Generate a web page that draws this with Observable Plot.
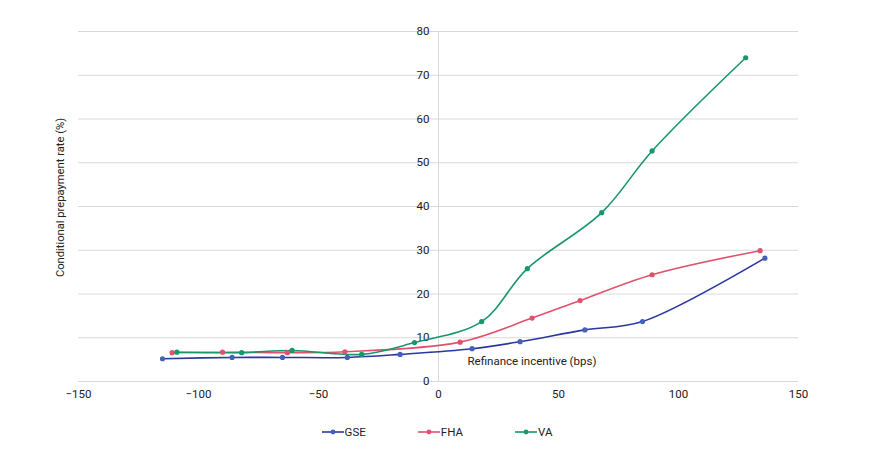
<!DOCTYPE html>
<html><head><meta charset="utf-8">
<script src="https://cdn.jsdelivr.net/npm/d3@7"></script>
<script src="https://cdn.jsdelivr.net/npm/@observablehq/plot@0.6"></script>
<style>
body{margin:0;background:#fff;font-family:Roboto,"Liberation Sans",sans-serif;}
#legend{display:flex;justify-content:center;gap:52px;font-size:11.5px;color:#222;height:40px;align-items:center;padding-left:4px;}
.item{display:flex;align-items:center;}
.item svg{margin-right:1px}
</style></head>
<body><div id="chart"></div><div id="legend"></div>
<script>
const series = ["GSE", "FHA", "VA"];
const colors = ["#2b37a0", "#e0526c", "#17976a"];
const pointColors = ["#4560b8", "#e0526c", "#17976a"];
const gseX = [-115, -86, -65, -38, -16, 14, 34, 61, 85, 136];
const gseY = [5.2, 5.5, 5.5, 5.5, 6.2, 7.5, 9.1, 11.8, 13.7, 28.2];
const fhaX = [-111, -90, -63, -39, 9, 39, 59, 89, 134];
const fhaY = [6.6, 6.7, 6.6, 6.8, 9.0, 14.5, 18.5, 24.4, 29.9];
const vaX = [-109, -82, -61, -32, -10, 18, 37, 68, 89, 128];
const vaY = [6.7, 6.6, 7.1, 6.2, 8.9, 13.7, 25.8, 38.6, 52.7, 74.0];
const yTicks = [0, 10, 20, 30, 40, 50, 60, 70, 80];
const xTicks = [-150, -100, -50, 0, 50, 100, 150];
const xLabel = "Refinance incentive (bps)";
const yLabel = "Conditional prepayment rate (%)";

const xs = [gseX, fhaX, vaX], ys = [gseY, fhaY, vaY];
const data = series.flatMap((s, i) => xs[i].map((x, j) => ({series: s, x, y: ys[i][j]})));

const H = 412;
const chart = Plot.plot({
  width: 870, height: H,
  marginLeft: 78, marginRight: 72, marginTop: 31, marginBottom: H - 381,
  style: {fontFamily: "Roboto, 'Liberation Sans', sans-serif", fontSize: "11.5px", color: "#222"},
  x: {domain: [-150, 150], ticks: xTicks},
  y: {domain: [0, 80], ticks: yTicks},
  color: {domain: series, range: colors},
  marks: [
    Plot.gridY(yTicks, {stroke: "#d9d9d9", strokeOpacity: 1}),
    Plot.ruleX([0], {stroke: "#d9d9d9", strokeWidth: 1}),
    Plot.axisX({ticks: xTicks, tickSize: 0, tickPadding: 8, label: null, fill: "#222"}),
    Plot.axisY({ticks: yTicks, tickSize: 0, tickPadding: 9, dx: 360, label: null, fill: "#222"}),
    Plot.text([yLabel], {frameAnchor: "left", textAnchor: "middle", rotate: -90, dx: -18, dy: -9, fill: "#222", fontSize: 11.2}),
    Plot.text([xLabel], {frameAnchor: "bottom", textAnchor: "start", dx: 29, dy: -17, fill: "#222", fontSize: 11.5}),
    Plot.line(data, {x: "x", y: "y", z: "series", stroke: "series", curve: "catmull-rom", strokeWidth: 1.6}),
    Plot.dot(data, {x: "x", y: "y", fill: d => pointColors[series.indexOf(d.series)], r: 2.6})
  ]
});
document.getElementById("chart").appendChild(chart);

const lg = document.getElementById("legend");
series.forEach((s, i) => {
  const it = document.createElement("div");
  it.className = "item";
  it.innerHTML = `<svg width="22" height="8"><line x1="0" y1="4" x2="22" y2="4" stroke="${colors[i]}" stroke-width="1.6"/><circle cx="11" cy="4" r="2.4" fill="${pointColors[i]}"/></svg><span>${s}</span>`;
  lg.appendChild(it);
});
</script></body></html>
